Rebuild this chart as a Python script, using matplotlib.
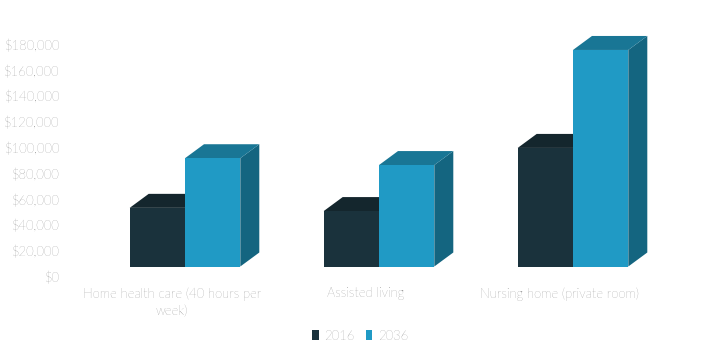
"""
Care cost by setting, fake 3D grouped bars
"""
import matplotlib
matplotlib.use('Agg')
import matplotlib.pyplot as plt
from matplotlib.patches import Patch, Polygon
from matplotlib.ticker import FuncFormatter

categories = ['Home health care (40 hours per\nweek)', 'Assisted living', 'Nursing home (private room)']
series_names = ['2016', '2036']
values_2016 = [45500, 43000, 92000]
values_2036 = [84000, 78700, 168000]
y_ticks = list(range(0, 180001, 20000))

# front, top, side
colors_2016 = ('#1a323c', '#14262d', '#14262d')
colors_2036 = ('#209ac5', '#197695', '#146580')

plt.rcParams['font.family'] = ['Lato', 'DejaVu Sans']
TEXT = '#5c5c5c'
W, H = 708, 353

fig = plt.figure(figsize=(W / 100, H / 100), dpi=100)
ax_left, ax_right, ax_top, ax_bottom = 75, 657, 45, 277
ax = fig.add_axes([ax_left / W, 1 - ax_bottom / H, (ax_right - ax_left) / W, (ax_bottom - ax_top) / H])
ax.set_xlim(-0.5, 2.5)
ax.set_ylim(0, 180000)

# pixel sizes turned into data units
px_x = 3 / (ax_right - ax_left)
px_y = 180000 / (ax_bottom - ax_top)
bar_w = 55.3 * px_x
shift = 13 * px_x        # bars sit right of the category centre
base = 10.5 * px_y       # bars stand on the floor, above the axis zero
dx, dy = 19 * px_x, 14 * px_y


def draw_bar(x, value, cols):
    front, top, side = cols
    y0, y1 = base, base + value
    ax.add_patch(Polygon([(x + bar_w, y0), (x + bar_w + dx, y0 + dy), (x + bar_w + dx, y1 + dy), (x + bar_w, y1)],
                         facecolor=side, edgecolor='none', clip_on=False))
    ax.add_patch(Polygon([(x, y1), (x + dx, y1 + dy), (x + bar_w + dx, y1 + dy), (x + bar_w, y1)],
                         facecolor=top, edgecolor='none', clip_on=False))
    ax.add_patch(Polygon([(x, y0), (x + bar_w, y0), (x + bar_w, y1), (x, y1)],
                         facecolor=front, edgecolor='none', clip_on=False))


for i in range(len(categories)):
    draw_bar(i + shift - bar_w, values_2016[i], colors_2016)
    draw_bar(i + shift, values_2036[i], colors_2036)

ax.set_yticks(y_ticks)
ax.yaxis.set_major_formatter(FuncFormatter(lambda v, _: f'${v:,.0f}'))
ax.set_xticks(range(len(categories)))
ax.set_xticklabels(categories, linespacing=1.4)
ax.tick_params(axis='y', length=0, pad=11.5, labelsize=9.4, labelcolor=TEXT)
ax.tick_params(axis='x', length=0, pad=7.5, labelsize=9.4, labelcolor=TEXT)
for label in ax.get_xticklabels() + ax.get_yticklabels():
    label.set_fontweight('light')
for spine in ax.spines.values():
    spine.set_visible(False)

handles = [Patch(facecolor=colors_2016[0], label=series_names[0]),
           Patch(facecolor=colors_2036[0], label=series_names[1])]
fig.legend(handles=handles, loc='center', bbox_to_anchor=(360 / W, 1 - 336 / H), ncol=2, frameon=False,
           labelcolor=TEXT, handlelength=0.52, handleheight=0.7, handletextpad=0.4,
           columnspacing=0.85, prop={'weight': 'light', 'size': 9.4})

fig.savefig('out.png', dpi=100, facecolor='white')
